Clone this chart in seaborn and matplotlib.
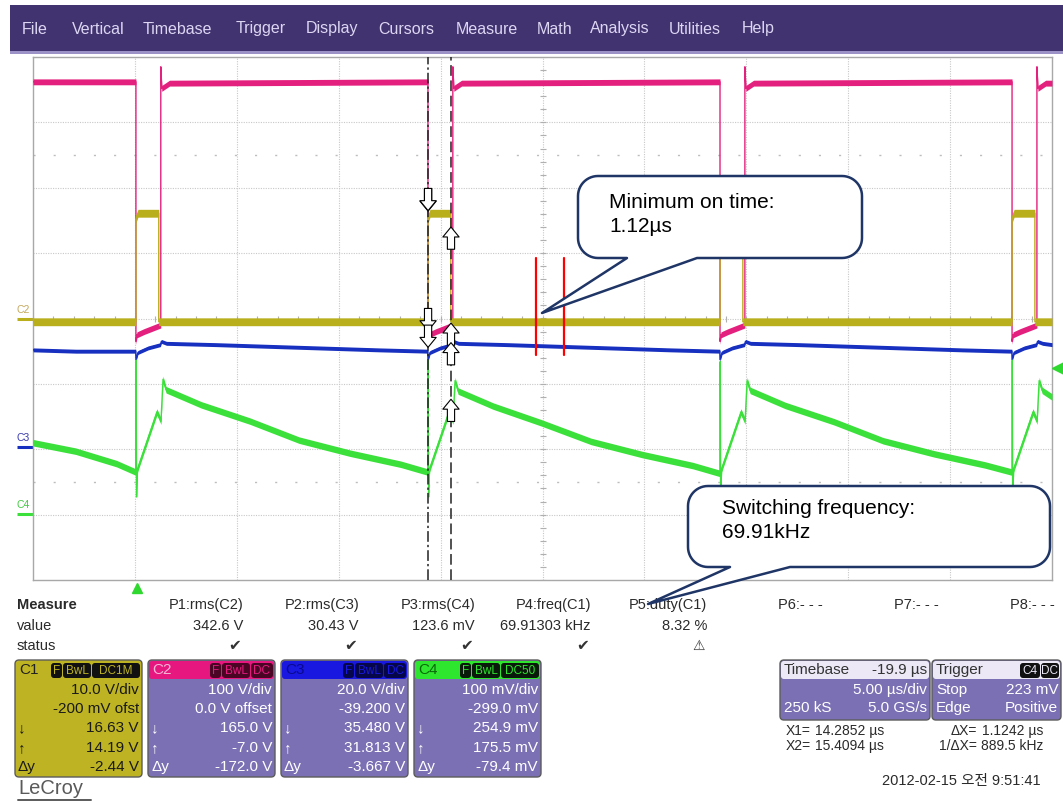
import numpy as np
import matplotlib
matplotlib.use("Agg")
import matplotlib.pyplot as plt
import seaborn as sns
from matplotlib.patches import FancyBboxPatch, Polygon, Rectangle

# ---------------- values ----------------
# time in µs (trigger = 0), trace levels in screen divisions
t_left, t_right = -5.1, 44.9

# C2 (magenta)
c2_t = [-5.1,
        -0.05, -0.05, 0.0, 0.35, 1.17, 1.17, 1.22, 1.6,
        14.28, 14.28, 14.33, 14.68, 15.50, 15.50, 15.55, 15.93,
        28.61, 28.61, 28.66, 29.01, 29.83, 29.83, 29.88, 30.26,
        42.94, 42.94, 42.99, 43.34, 44.16, 44.16, 44.21, 44.59,
        44.9]
c2_div = [3.62,
          3.62, -0.35, -0.25, -0.2, -0.1, 3.85, 3.52, 3.6,
          3.62, -0.35, -0.25, -0.2, -0.1, 3.85, 3.52, 3.6,
          3.62, -0.35, -0.25, -0.2, -0.1, 3.85, 3.52, 3.6,
          3.62, -0.35, -0.25, -0.2, -0.1, 3.85, 3.52, 3.6,
          3.6]

# C1 (yellow)
c1_t = [-5.1,
        -0.05, -0.05, 0.05, 1.07, 1.07,
        14.28, 14.28, 14.38, 15.40, 15.40,
        28.61, 28.61, 28.71, 29.73, 29.73,
        42.94, 42.94, 43.04, 44.06, 44.06,
        44.9]
c1_div = [-0.05,
          -0.05, 1.52, 1.61, 1.61, -0.05,
          -0.05, 1.52, 1.61, 1.61, -0.05,
          -0.05, 1.52, 1.61, 1.61, -0.05,
          -0.05, 1.52, 1.61, 1.61, -0.05,
          -0.05]

# C3 (blue)
c3_t = [-5.1, -3.0,
        -0.06, -0.05, 0.05, 0.55, 1.15, 1.2, 1.45, 3.9, 7.9, 11.9,
        14.27, 14.28, 14.38, 14.88, 15.48, 15.53, 15.78, 18.2, 22.2, 26.2,
        28.60, 28.61, 28.71, 29.21, 29.81, 29.86, 30.11, 32.5, 36.5, 40.5,
        42.93, 42.94, 43.04, 43.54, 44.14, 44.19, 44.44, 44.9]
c3_div = [-0.48, -0.50,
          -0.50, -0.63, -0.52, -0.45, -0.40, -0.35, -0.38, -0.40, -0.44, -0.48,
          -0.50, -0.63, -0.52, -0.45, -0.40, -0.35, -0.38, -0.40, -0.44, -0.48,
          -0.50, -0.63, -0.52, -0.45, -0.40, -0.35, -0.38, -0.40, -0.44, -0.48,
          -0.50, -0.63, -0.52, -0.45, -0.40, -0.35, -0.38, -0.40]

# C4 (green, inductor-current sawtooth)
c4_t = [-5.1, -3.0, -1.0,
        -0.05, -0.04, -0.02, 0.03, 0.98, 1.18, 1.28, 1.43, 3.15, 5.55, 7.95, 10.45, 12.95,
        14.28, 14.29, 14.31, 14.36, 15.31, 15.51, 15.61, 15.76, 17.48, 19.88, 22.28, 24.78, 27.28,
        28.61, 28.62, 28.64, 28.69, 29.64, 29.84, 29.94, 30.09, 31.81, 34.21, 36.61, 39.11, 41.61,
        42.94, 42.95, 42.97, 43.02, 43.97, 44.17, 44.27, 44.42, 44.9]
c4_div = [-1.90, -2.03, -2.22,
          -2.35, -0.64, -2.73, -2.30, -1.43, -1.57, -0.93, -1.09, -1.32, -1.57, -1.86, -2.06, -2.23,
          -2.35, -0.64, -2.73, -2.30, -1.43, -1.57, -0.95, -1.11, -1.34, -1.60, -1.88, -2.08, -2.25,
          -2.37, -0.66, -2.75, -2.30, -1.43, -1.57, -0.95, -1.10, -1.33, -1.58, -1.87, -2.07, -2.24,
          -2.35, -0.64, -2.73, -2.30, -1.43, -1.57, -0.95, -1.10, -1.20]

# channel setup and cursor read-outs (C1..C4)
ch_vdiv = [10.0, 100.0, 20.0, 0.1]
ch_offset = [-0.2, 0.0, -39.2, -0.299]
cur_x1 = 14.2852
cur_x2 = 15.4094
cur_x1_val = [16.63, 165.0, 35.48, 0.2549]
cur_x2_val = [14.19, -7.0, 31.813, 0.1755]
trig_level = 0.223

# red marks of the "minimum on time" note
mark_t = [19.58, 20.95]
mark_span = [-0.56, 0.93]

menu_items = ["File", "Vertical", "Timebase", "Trigger", "Display", "Cursors",
              "Measure", "Math", "Analysis", "Utilities", "Help"]

meas_names = ["P1:rms(C2)", "P2:rms(C3)", "P3:rms(C4)", "P4:freq(C1)",
              "P5:duty(C1)", "P6:- - -", "P7:- - -", "P8:- - -"]
meas_values = ["342.6 V", "30.43 V", "123.6 mV", "69.91303 kHz", "8.32 %", "", "", ""]
meas_status = ["✔", "✔", "✔", "✔", "⚠", "", "", ""]

ch_names = ["C1", "C2", "C3", "C4"]
ch_tags = [["F", "BwL", "DC1M"], ["F", "BwL", "DC"], ["F", "BwL", "DC"], ["F", "BwL", "DC50"]]
ch_rows = [["10.0 V/div", "-200 mV ofst", "16.63 V", "14.19 V", "-2.44 V"],
           ["100 V/div", "0.0 V offset", "165.0 V", "-7.0 V", "-172.0 V"],
           ["20.0 V/div", "-39.200 V", "35.480 V", "31.813 V", "-3.667 V"],
           ["100 mV/div", "-299.0 mV", "254.9 mV", "175.5 mV", "-79.4 mV"]]

# ---------------- style ----------------
sns.set_style("white")
plt.rcParams["font.family"] = ["Liberation Sans", "DejaVu Sans", "Noto Sans CJK KR"]

col_c1 = "#b9ae1c"
col_c2 = "#e4207e"
col_c3 = "#1830c0"
col_c4 = "#3be03b"

W, H = 1063, 802
fig = plt.figure(figsize=(W / 100, H / 100), dpi=100)
fig.patch.set_facecolor("white")

ax = fig.add_axes([33 / W, 1 - 580 / H, 1019 / W, 523 / H])
ax.set_facecolor("white")

# graticule
grid_c = "#c8c8c8"
for k in range(1, 10):
    ax.axvline(t_left + 5 * k, color=grid_c, lw=0.8, ls=(0, (1, 1.2)), zorder=0)
for k in range(-3, 4):
    ax.axhline(k, color=grid_c, lw=0.8, ls=(0, (1, 1.2)), zorder=0)
for yy in (2.5, -2.5):
    ax.axhline(yy, color="#bdbdbd", lw=1.0, ls=(0, (1.5, 13)), zorder=0)
tc = t_left + 25
ty = np.arange(-4, 4.01, 0.2)
ax.plot(np.full(ty.size, tc), ty, ls="none", marker="_", ms=5, mew=0.8, color="#b0b0b0", zorder=0)
tx = np.arange(t_left, t_right + 0.01, 1.0)
ax.plot(tx, np.zeros(tx.size), ls="none", marker="|", ms=5, mew=0.8, color="#b0b0b0", zorder=0)


def trace(t, d, color, hw, z):
    t = np.asarray(t, float)
    d = np.asarray(d, float)
    ax.fill_between(t, d - hw, d + hw, color=color, lw=0, zorder=z)
    sns.lineplot(x=t, y=d, sort=False, estimator=None, color=color, lw=1.0, ax=ax, zorder=z)


trace(c2_t, c2_div, col_c2, 0.045, 3)
trace(c1_t, c1_div, col_c1, 0.06, 4)
trace(c3_t, c3_div, col_c3, 0.03, 5)
trace(c4_t, c4_div, col_c4, 0.05, 6)

# cursors
ax.axvline(cur_x1, color="#222222", lw=1.1, ls=(0, (7, 2, 1.5, 2)), zorder=7)
ax.axvline(cur_x2, color="#222222", lw=1.1, ls=(0, (7, 3)), zorder=7)
arrow_kw = dict(arrowstyle="simple,head_length=0.55,head_width=0.9,tail_width=0.4",
                fc="white", ec="black", lw=0.8, shrinkA=0, shrinkB=0, mutation_scale=13)
for v1, v2, vd, off in zip(cur_x1_val, cur_x2_val, ch_vdiv, ch_offset):
    ax.annotate("", xy=(cur_x1, (v1 + off) / vd), xytext=(0, 16), textcoords="offset points",
                arrowprops=arrow_kw, zorder=8)
    ax.annotate("", xy=(cur_x2, (v2 + off) / vd), xytext=(0, -16), textcoords="offset points",
                arrowprops=arrow_kw, zorder=8)

for mt in mark_t:
    ax.plot([mt, mt], mark_span, color="red", lw=1.6, zorder=9)

# trigger markers
ax.plot([0], [-4.12], marker="^", ms=7, color="#2ed82e", ls="none", clip_on=False, zorder=9)
ax.plot([t_right + 0.3], [(trig_level + ch_offset[3]) / ch_vdiv[3]], marker="<", ms=8,
        color="#2ed82e", ls="none", clip_on=False, zorder=9)

# channel ground labels
yx = ax.get_yaxis_transform()
for name, lcol, tcol, ci in [("C2", col_c1, "#c4a85c", 1), ("C3", col_c3, "#3a3ab0", 2),
                             ("C4", col_c4, "#45c845", 3)]:
    lvl = ch_offset[ci] / ch_vdiv[ci]
    ax.plot([-0.016, 0], [lvl, lvl], transform=yx, color=lcol, lw=2.2, clip_on=False,
            solid_capstyle="butt")
    ax.text(-0.016, lvl + 0.06, name, transform=yx, color=tcol, fontsize=7.5,
            va="bottom", ha="left", clip_on=False)

ax.set_xlim(t_left, t_right)
ax.set_ylim(-4, 4)
ax.set_xticks([])
ax.set_yticks([])
ax.set_xlabel("")
ax.set_ylabel("")
for s in ax.spines.values():
    s.set_color("#a8a8a8")
    s.set_linewidth(1.0)

# ---------------- overlay for the instrument UI ----------------
ov = fig.add_axes([0, 0, 1, 1])
ov.set_xlim(0, W)
ov.set_ylim(H, 0)
ov.axis("off")
ov.patch.set_alpha(0)

ov.add_patch(Rectangle((10, 5), W - 10, 47, fc="#41336f", ec="none"))
ov.add_patch(Rectangle((10, 51), W - 10, 3, fc="#9c92c8", ec="none"))
menu_x = [22, 72, 143, 236, 306, 378, 456, 537, 590, 669, 742]
for name, mx in zip(menu_items, menu_x):
    ov.text(mx, 29, name, color="#ddd6f3", fontsize=11.5, va="center", ha="left")

navy = "#1f3566"


def bubble(x0, y0, x1, y1, r, base, tip, lines, tx, ty):
    def arc(cx, cy, a0, a1):
        a = np.radians(np.linspace(a0, a1, 14))
        return list(zip(cx + r * np.cos(a), cy + r * np.sin(a)))
    pts = []
    pts += arc(x0 + r, y0 + r, 180, 270)
    pts += arc(x1 - r, y0 + r, 270, 360)
    pts += arc(x1 - r, y1 - r, 0, 90)
    pts += [(base[1], y1), tip, (base[0], y1)]
    pts += arc(x0 + r, y1 - r, 90, 180)
    ov.add_patch(Polygon(pts, closed=True, fc="white", ec=navy, lw=1.8, joinstyle="round", zorder=10))
    for i, s in enumerate(lines):
        ov.text(tx, ty + 25 * i, s, fontsize=15, color="black", va="center", ha="left", zorder=11)


bubble(578, 176, 862, 258, 20, (627, 697), (542, 313), ["Minimum on time:", "1.12µs"], 609, 202)
bubble(688, 486, 1050, 567, 20, (730, 790), (648, 604), ["Switching frequency:", "69.91kHz"], 722, 508)

# measurement table
txt_c = "#2a2a2a"
ov.text(17, 605, "Measure", fontsize=10.5, fontweight="bold", color=txt_c, va="center")
ov.text(17, 626, "value", fontsize=10.5, color=txt_c, va="center")
ov.text(17, 646, "status", fontsize=10.5, color=txt_c, va="center")
for k, (nm, val, st) in enumerate(zip(meas_names, meas_values, meas_status)):
    xr = 243 + 116 * k
    ov.text(xr, 605, nm, fontsize=10.5, color=txt_c, va="center", ha="right")
    ov.text(xr, 626, val, fontsize=10.5, color=txt_c, va="center", ha="right")
    ov.text(xr - 8, 646, st, fontsize=11 if st == "✔" else 10, color="#333333",
            va="center", ha="center")

# channel boxes
box_x = [15, 148, 281, 414]
body_c = ["#beb423", "#7b70b3", "#7b70b3", "#7b70b3"]
head_c = ["#beb423", "#e6177f", "#1818e0", "#2ee62e"]
head_txt = ["#222222", "#f6b6d6", "#0a0a90", "#0a6a0a"]
tag_bg = ["#111111", "#4a0525", "#06064a", "#0a1a0a"]
body_txt = ["#1a1a1a", "white", "white", "white"]
tag_w = {"F": 11, "BwL": 28, "DC": 22, "DC1M": 48, "DC50": 38}
row_y = [690, 709, 728, 748, 767]
left_sym = ["", "", "↓", "↑", "Δy"]
for i in range(4):
    x0 = box_x[i]
    ov.add_patch(FancyBboxPatch((x0, 660), 127, 117, boxstyle="round,pad=0,rounding_size=4",
                                fc=body_c[i], ec="#5c5c5c", lw=1.0))
    ov.add_patch(FancyBboxPatch((x0 + 1, 661), 125, 18, boxstyle="round,pad=0,rounding_size=3",
                                fc=head_c[i], ec="none"))
    ov.text(x0 + 4, 670, ch_names[i], fontsize=11, color=head_txt[i], va="center")
    xr = x0 + 125
    for tg in reversed(ch_tags[i]):
        w = tag_w[tg]
        ov.add_patch(FancyBboxPatch((xr - w, 663), w, 15, boxstyle="round,pad=0,rounding_size=3",
                                    fc=tag_bg[i], ec="none"))
        ov.text(xr - w / 2, 670.5, tg, fontsize=8.5, color=head_c[i], va="center", ha="center")
        xr -= w + 1
    for j, val in enumerate(ch_rows[i]):
        ov.text(x0 + 124, row_y[j], val, fontsize=11, color=body_txt[i], va="center", ha="right")
        if left_sym[j]:
            ov.text(x0 + 3, row_y[j], left_sym[j], fontsize=11, color=body_txt[i], va="center")

# timebase / trigger boxes
ov.add_patch(FancyBboxPatch((780, 660), 150, 60, boxstyle="round,pad=0,rounding_size=4",
                            fc="#7b70b3", ec="#5c5c5c", lw=1.0))
ov.add_patch(FancyBboxPatch((781, 661), 148, 18, boxstyle="round,pad=0,rounding_size=3",
                            fc="#ece8f6", ec="none"))
ov.text(784, 670, "Timebase", fontsize=11, color="#333333", va="center")
ov.text(927, 670, "-19.9 µs", fontsize=11, color="#333333", va="center", ha="right")
ov.text(927, 690, "5.00 µs/div", fontsize=11, color="white", va="center", ha="right")
ov.text(784, 708, "250 kS", fontsize=11, color="white", va="center")
ov.text(927, 708, "5.0 GS/s", fontsize=11, color="white", va="center", ha="right")

ov.add_patch(FancyBboxPatch((932, 660), 129, 60, boxstyle="round,pad=0,rounding_size=4",
                            fc="#7b70b3", ec="#5c5c5c", lw=1.0))
ov.add_patch(FancyBboxPatch((933, 661), 127, 18, boxstyle="round,pad=0,rounding_size=3",
                            fc="#ece8f6", ec="none"))
ov.text(936, 670, "Trigger", fontsize=11, color="#333333", va="center")
for tg, xa, w in [("C4", 1020, 20), ("DC", 1041, 18)]:
    ov.add_patch(FancyBboxPatch((xa, 663), w, 15, boxstyle="round,pad=0,rounding_size=3",
                                fc="#111111", ec="none"))
    ov.text(xa + w / 2, 670.5, tg, fontsize=8.5, color="#ece8f6", va="center", ha="center")
ov.text(936, 690, "Stop", fontsize=11, color="white", va="center")
ov.text(1058, 690, "223 mV", fontsize=11, color="white", va="center", ha="right")
ov.text(936, 708, "Edge", fontsize=11, color="white", va="center")
ov.text(1058, 708, "Positive", fontsize=11, color="white", va="center", ha="right")

# cursor read-out
ro = dict(fontsize=10, color=txt_c, va="center")
ov.text(786, 731, "X1=", ha="left", **ro)
ov.text(884, 731, "14.2852 µs", ha="right", **ro)
ov.text(977, 731, "ΔX=", ha="right", **ro)
ov.text(1043, 731, "1.1242 µs", ha="right", **ro)
ov.text(786, 746, "X2=", ha="left", **ro)
ov.text(884, 746, "15.4094 µs", ha="right", **ro)
ov.text(977, 746, "1/ΔX=", ha="right", **ro)
ov.text(1043, 746, "889.5 kHz", ha="right", **ro)

ov.text(1041, 781, "2012-02-15 오전 9:51:41", fontsize=10.5, color=txt_c, va="center", ha="right")

ov.text(18, 789, "LeCroy", fontsize=14.5, color="#5a5a5a", va="center")
ov.plot([18, 91], [800, 800], color="#5a5a5a", lw=1.4)

fig.savefig("out.png", dpi=100)
